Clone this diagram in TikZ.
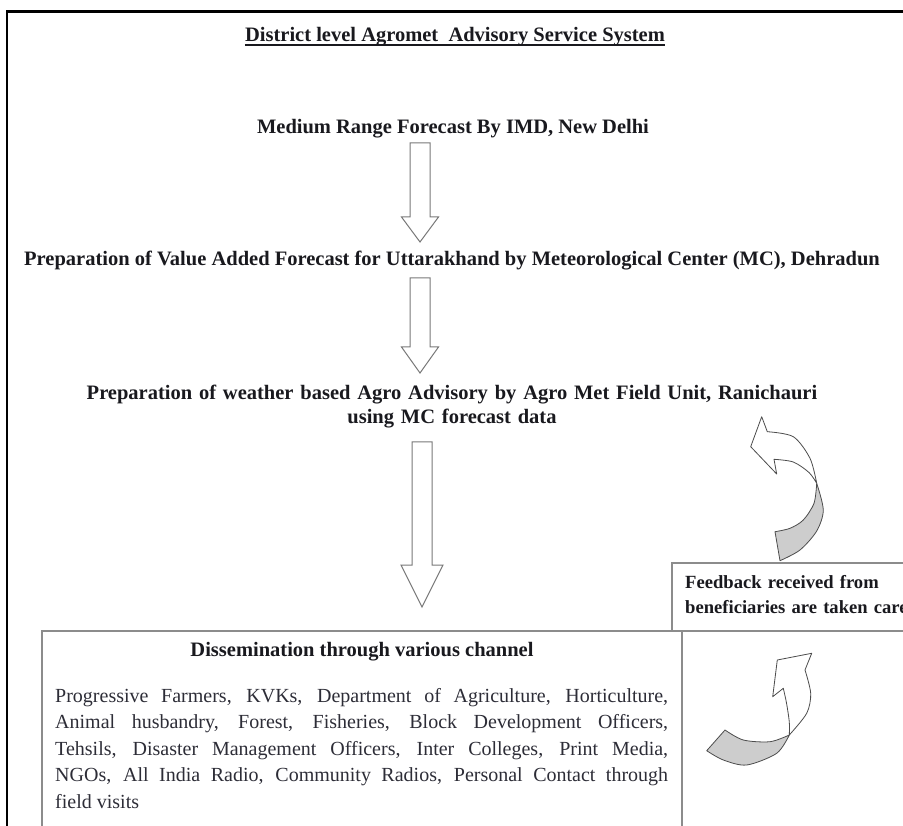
\documentclass[tikz,border=0pt]{standalone}
\usepackage{fontspec}
\setmainfont{Liberation Serif}
\definecolor{boxgray}{RGB}{140,140,140}
\definecolor{arrgray}{RGB}{120,120,120}
\definecolor{inkbody}{RGB}{45,45,55}
\definecolor{inkhead}{RGB}{25,25,30}
\definecolor{tailgray}{RGB}{205,205,205}
\begin{document}
\begin{tikzpicture}[x=1pt,y=-1pt,
  headtxt/.style={font=\fontsize{20.5}{23.5}\selectfont\bfseries, text=inkhead, inner sep=0pt},
  fbtxt/.style={font=\fontsize{18.6}{25}\selectfont\bfseries, text=inkhead, inner sep=0pt},
  bodytxt/.style={font=\fontsize{20}{26.5}\selectfont, text=inkbody, inner sep=0pt},
  boxline/.style={draw=boxgray, line width=1.3pt},
  blockarrow/.style={draw=arrgray, fill=white, line width=1pt, line join=miter},
  curvarrow/.style={draw=black!70, line width=0.8pt, line join=round},
  pics/blockdown/.style args={#1/#2/#3}{code={
    \draw[blockarrow] (-10,0) -- (10,0) -- (10,#1) -- (#3,#1) -- (0,#2)
      -- (-#3,#1) -- (-10,#1) -- cycle;}}
]
\clip (0,0) rectangle (903,826);
\fill[white] (0,0) rectangle (903,826);

% outer frame
\draw[line width=2.3pt] (7,880) -- (7,11.5) -- (930,11.5);

% title
\node[headtxt, anchor=base] (title) at (455,42) {District level Agromet\ \ Advisory Service System};
\draw[line width=1.8pt, inkhead] ([yshift=-3pt]title.base west) -- ([yshift=-3pt]title.base east);

% chain of headings
\node[headtxt, anchor=base] (mrf) at (453,134) {Medium Range Forecast By IMD, New Delhi};
\node[headtxt, anchor=base] (vaf) at (452,266) {Preparation of Value Added Forecast for Uttarakhand by Meteorological Center (MC), Dehradun};
\node[headtxt, anchor=base, text width=860pt, align=center] (wba) at (452,400)
  {Preparation of weather based Agro Advisory by Agro Met Field Unit, Ranichauri\\using MC forecast data};

% block arrows
\coordinate (a1) at (420,143);
\coordinate (a2) at (420,278);
\coordinate (a3) at (422,442);
\pic at (a1) {blockdown={74/99/18.5}};
\pic at (a2) {blockdown={69/95/18.5}};
\pic at (a3) {blockdown={123/165/21}};

% boxes
\draw[boxline] (1000,563) -- (672,563) -- (672,631) -- (1000,631);
\draw[boxline] (42,880) -- (42,631) -- (682,631) -- (682,880);

% feedback text
\node[fbtxt, anchor=base west, text width=300pt, align=left] (fb) at (685,588)
  {Feedback received from\\beneficiaries are taken care};

% dissemination
\node[headtxt, anchor=base] (dtitle) at (362,656) {Dissemination through various channel};
\node[bodytxt, anchor=base west, text width=613pt, align=justify] (dbody) at (55,702)
  {Progressive Farmers, KVKs, Department of Agriculture, Horticulture,\linebreak
   Animal husbandry, Forest, Fisheries, Block Development Officers,\linebreak
   Tehsils, Disaster Management Officers, Inter Colleges, Print Media,\linebreak
   NGOs, All India Radio, Community Radios, Personal Contact through\linebreak
   field visits};

% upper curved arrow (feedback -> advisory)
\draw[curvarrow, fill=tailgray]
  plot[smooth] coordinates {(816.7,483.3) (823.3,510) (816.7,531) (800,550) (780,560.7)}
  -- (775,531.7)
  -- plot[smooth] coordinates {(775,531.7) (790,528.3) (803.3,520) (814,503.3) (816.7,483.3)}
  -- cycle;
\draw[curvarrow, fill=white]
  (761.7,416.7)
  -- plot[smooth] coordinates {(767.3,431.7) (793.3,436.7) (810,458.3) (816.7,483.3)}
  -- plot[smooth] coordinates {(816.7,483.3) (809,472.5) (793.3,462) (774,459.3)}
  -- (776.7,474) -- (750.7,446.7) -- cycle;

% lower curved arrow
\draw[curvarrow, fill=tailgray]
  plot[smooth] coordinates {(789.3,735) (770,741.7) (743.3,740) (725,730)}
  -- (706.7,750.7)
  -- plot[smooth] coordinates {(706.7,750.7) (723.3,760) (746.7,765) (776.7,753.3) (789.3,735)}
  -- cycle;
\draw[curvarrow, fill=white]
  (811.7,653.3) -- (777.3,660) -- (772.7,696.7) -- (783.3,688.3)
  -- plot[smooth] coordinates {(783.3,688.3) (786.5,703) (789.3,722) (789.3,735)}
  -- plot[smooth] coordinates {(789.3,735) (806.7,713.3) (810.7,693.3) (805,670)}
  -- cycle;
\end{tikzpicture}
\end{document}
